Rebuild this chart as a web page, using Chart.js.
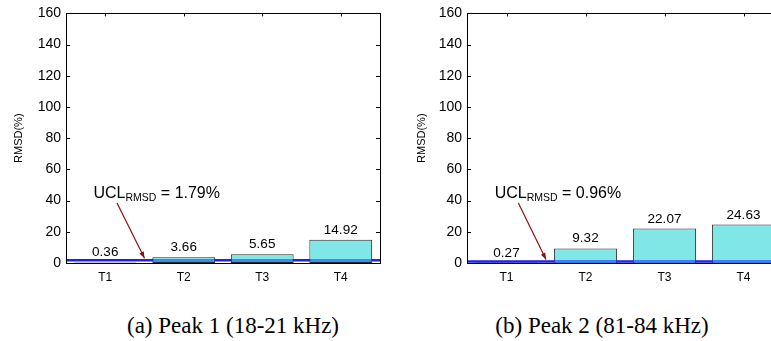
<!DOCTYPE html>
<html>
<head>
<meta charset="utf-8">
<script src="https://cdn.jsdelivr.net/npm/chart.js@4.4.1/dist/chart.umd.min.js"></script>
<style>
body { margin: 0; background: #fff; overflow: hidden; width: 771px; height: 341px; position: relative; }
.box { position: absolute; top: 0; height: 300px; }
.cap { position: absolute; top: 313px; font: 23px 'Liberation Serif', 'Times New Roman', serif; color: #000; white-space: nowrap; transform: translateX(-50%); }
</style>
</head>
<body>
<div class="box" style="left:0;width:390px"><canvas id="peak1"></canvas></div>
<div class="box" style="left:395px;width:400px"><canvas id="peak2"></canvas></div>
<div class="cap" style="left:233px">(a) Peak 1 (18-21 kHz)</div>
<div class="cap" style="left:602px">(b) Peak 2 (81-84 kHz)</div>
<script>
const tests = ['T1', 'T2', 'T3', 'T4'];
const peak1Rmsd = [0.36, 3.66, 5.65, 14.92];
const peak2Rmsd = [0.27, 9.32, 22.07, 24.63];
const peak1Ucl = 1.79;
const peak2Ucl = 0.96;
const yTicks = [0, 20, 40, 60, 80, 100, 120, 140, 160];

const SANS = "'Liberation Sans', Arial, sans-serif";

// frame, inward ticks, UCL line, value labels and the arrow note
const matlabLook = {
    id: 'matlabLook',
    afterDatasetsDraw(chart, args, opts) {
        const ctx = chart.ctx;
        const area = chart.chartArea;
        const xs = chart.scales.x;
        const ys = chart.scales.y;
        const bars = chart.getDatasetMeta(0).data;
        const values = chart.data.datasets[0].data;
        ctx.save();

        // UCL line, lighter where it crosses the bars
        const yu = ys.getPixelForValue(opts.ucl);
        ctx.lineWidth = 2.5;
        ctx.strokeStyle = '#2020e8';
        ctx.beginPath();
        ctx.moveTo(area.left, yu);
        ctx.lineTo(area.right, yu);
        ctx.stroke();
        ctx.strokeStyle = '#3a8cf5';
        bars.forEach((b, i) => {
            if (values[i] > opts.ucl) {
                ctx.beginPath();
                ctx.moveTo(b.x - b.width / 2 + 1, yu);
                ctx.lineTo(b.x + b.width / 2 - 1, yu);
                ctx.stroke();
            }
        });

        // value labels
        ctx.fillStyle = '#000';
        ctx.font = '13.5px ' + SANS;
        ctx.textAlign = 'center';
        ctx.textBaseline = 'bottom';
        bars.forEach((b, i) => {
            ctx.fillText(values[i].toFixed(2), b.x, Math.min(b.y, ys.getPixelForValue(0)) - 3);
        });

        // box and inward ticks
        ctx.strokeStyle = '#000';
        ctx.lineWidth = 1;
        ctx.strokeRect(Math.round(area.left) + 0.5, Math.round(area.top) + 0.5,
            Math.round(area.right - area.left), Math.round(area.bottom - area.top));
        ctx.beginPath();
        yTicks.forEach(v => {
            const y = Math.round(ys.getPixelForValue(v)) + 0.5;
            ctx.moveTo(area.left, y); ctx.lineTo(area.left + 4, y);
            ctx.moveTo(area.right, y); ctx.lineTo(area.right - 4, y);
        });
        tests.forEach((t, i) => {
            const x = Math.round(xs.getPixelForValue(i)) + 0.5;
            ctx.moveTo(x, area.top); ctx.lineTo(x, area.top + 3);
        });
        ctx.stroke();

        // UCL note with arrow
        const tx = xs.getPixelForValue(-0.15);
        const ty = ys.getPixelForValue(41.5);
        ctx.textAlign = 'left';
        ctx.textBaseline = 'alphabetic';
        ctx.font = '16px ' + SANS;
        ctx.fillText('UCL', tx, ty);
        let w = ctx.measureText('UCL').width;
        ctx.font = '10.5px ' + SANS;
        ctx.fillText('RMSD', tx + w, ty + 3);
        w += ctx.measureText('RMSD').width;
        ctx.font = '16px ' + SANS;
        ctx.fillText(' = ' + opts.ucl.toFixed(2) + '%', tx + w, ty);

        const x0 = xs.getPixelForValue(0.15), y0 = ys.getPixelForValue(38.5);
        const x1 = xs.getPixelForValue(0.5), y1 = yu - 2;
        ctx.strokeStyle = '#8b1010';
        ctx.fillStyle = '#8b1010';
        ctx.lineWidth = 1.2;
        ctx.beginPath();
        ctx.moveTo(x0, y0);
        ctx.lineTo(x1, y1);
        ctx.stroke();
        const ang = Math.atan2(y1 - y0, x1 - x0);
        ctx.beginPath();
        ctx.moveTo(x1, y1);
        ctx.lineTo(x1 - 7 * Math.cos(ang - 0.35), y1 - 7 * Math.sin(ang - 0.35));
        ctx.lineTo(x1 - 7 * Math.cos(ang + 0.35), y1 - 7 * Math.sin(ang + 0.35));
        ctx.closePath();
        ctx.fill();
        ctx.restore();
    }
};

function makeChart(id, values, ucl, padLeft, padRight, yWidth) {
    return new Chart(document.getElementById(id), {
        type: 'bar',
        data: {
            labels: tests,
            datasets: [{
                data: values,
                backgroundColor: '#80e6e6',
                borderColor: '#2a2a2a',
                borderWidth: 1,
                borderSkipped: false,
                barPercentage: 0.8,
                categoryPercentage: 1.0
            }]
        },
        options: {
            responsive: true,
            maintainAspectRatio: false,
            animation: false,
            layout: { padding: { left: padLeft, right: padRight, top: 11, bottom: 0 } },
            plugins: {
                legend: { display: false },
                tooltip: { enabled: false },
                matlabLook: { ucl: ucl }
            },
            scales: {
                x: {
                    offset: true,
                    grid: { display: false, drawTicks: false },
                    border: { display: false },
                    ticks: { color: '#000', font: { size: 12, family: SANS }, padding: 7 },
                    afterFit: s => { s.height = 37; }
                },
                y: {
                    min: 0,
                    max: 160,
                    afterBuildTicks: s => { s.ticks = yTicks.map(v => ({ value: v })); },
                    grid: { display: false, drawTicks: false },
                    border: { display: false },
                    ticks: { color: '#000', font: { size: 14, family: SANS }, padding: 5 },
                    title: {
                        display: true,
                        text: 'RMSD(%)',
                        color: '#000',
                        font: { size: 11, family: SANS },
                        padding: { top: 4, bottom: 0 }
                    },
                    afterFit: s => { s.width = yWidth; }
                }
            }
        },
        plugins: [matlabLook]
    });
}

const chart1 = makeChart('peak1', peak1Rmsd, peak1Ucl, 8, 10, 58);
const chart2 = makeChart('peak2', peak2Rmsd, peak2Ucl, 16, 12, 56);
</script>
</body>
</html>
